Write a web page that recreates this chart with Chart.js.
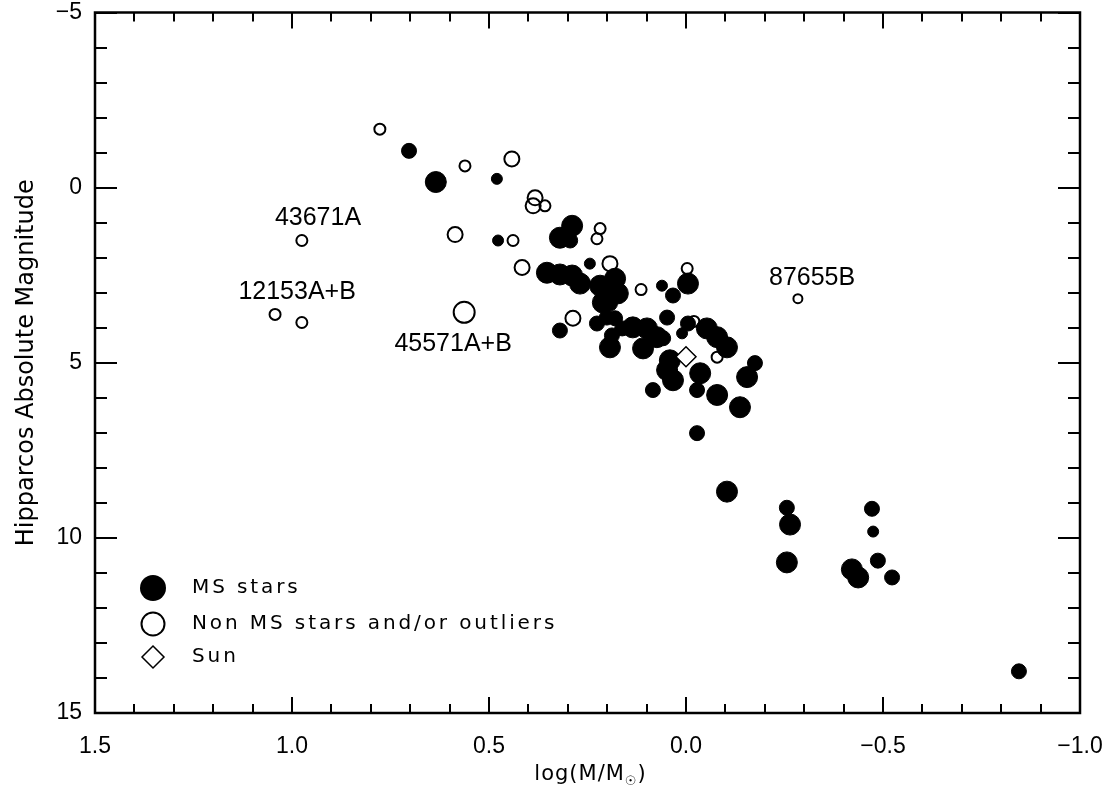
<!DOCTYPE html>
<html>
<head>
<meta charset="utf-8">
<script src="https://cdn.jsdelivr.net/npm/chart.js@4.4.1/dist/chart.umd.min.js"></script>
<style>
    html, body { margin: 0; padding: 0; background: #fff; }
    #wrap { width: 1114px; height: 795px; position: relative; }
</style>
</head>
<body>
<div id="wrap"><canvas id="hrChart"></canvas></div>
<script>
// MS stars: log(M/Msun), Hipparcos absolute magnitude, marker size class (0 tiny .. 3 large)
const msLogMass = [0.703, 0.635, 0.480, 0.477, 0.289, 0.320, 0.294, 0.353, 0.320, 0.289,
    0.269, 0.244, 0.218, 0.180, 0.201, 0.173, 0.211, 0.193, 0.061, 0.033,
    -0.005, 0.320, 0.226, 0.201, 0.180, 0.162, 0.188, 0.193, 0.135, 0.099,
    0.074, 0.109, 0.058, 0.048, -0.005, 0.010, -0.053, -0.079, -0.104, 0.041,
    0.048, 0.033, 0.084, -0.036, -0.028, -0.079, -0.137, -0.155, -0.175, -0.028,
    -0.104, -0.256, -0.264, -0.256, -0.472, -0.475, -0.487, -0.421, -0.437, -0.523,
    -0.845];
const msAbsMag = [-1.05, -0.16, -0.25, 1.51, 1.09, 1.43, 1.51, 2.43, 2.48, 2.51,
    2.74, 2.17, 2.80, 2.60, 2.99, 3.02, 3.28, 3.31, 2.80, 3.08,
    2.74, 4.08, 3.88, 3.71, 3.73, 4.02, 4.22, 4.56, 3.99, 4.02,
    4.27, 4.59, 4.30, 3.71, 3.88, 4.16, 4.02, 4.27, 4.56, 4.93,
    5.21, 5.50, 5.78, 5.30, 5.78, 5.92, 6.27, 5.41, 5.01, 7.01,
    8.68, 9.14, 9.62, 10.70, 9.17, 9.82, 10.65, 10.90, 11.13, 11.13,
    13.81];
const msSizeClass = [2, 3, 1, 1, 3, 3, 2, 3, 3, 3,
    3, 1, 3, 3, 3, 3, 3, 2, 1, 2,
    3, 2, 2, 2, 2, 2, 2, 3, 3, 3,
    3, 3, 2, 2, 2, 1, 3, 3, 3, 3,
    3, 3, 2, 3, 2, 3, 3, 3, 2, 2,
    3, 2, 3, 3, 2, 1, 2, 3, 3, 2,
    2];

// non MS stars and/or outliers
const otherLogMass = [0.777, 0.561, 0.442, 0.383, 0.388, 0.358, 0.586, 0.439, 0.218, 0.226,
    0.416, 0.193, -0.003, 0.114, 0.287, -0.020, -0.079, -0.284, 0.975, 1.043,
    0.975, 0.563];
const otherAbsMag = [-1.67, -0.62, -0.82, 0.29, 0.52, 0.52, 1.34, 1.51, 1.17, 1.46,
    2.28, 2.17, 2.31, 2.91, 3.73, 3.82, 4.84, 3.17, 1.51, 3.62,
    3.85, 3.56];
const otherSizeClass = [1, 1, 2, 2, 2, 1, 2, 1, 1, 1,
    2, 2, 1, 1, 2, 1, 1, 0, 1, 1,
    1, 3];

const sunLogMass = [0.0];
const sunAbsMag = [4.83];

// HIP identifiers written next to some outliers (anchor in data units)
const starIds = ['43671A', '12153A+B', '45571A+B', '87655B'];
const starIdLogMass = [0.934, 0.987, 0.591, -0.320];
const starIdAbsMag = [0.86, 2.97, 4.47, 2.57];

const xTicks = [1.5, 1.0, 0.5, 0.0, -0.5, -1.0];
const yTicks = [-5, 0, 5, 10, 15];

const legendItems = ['MS stars', 'Non MS stars and/or outliers', 'Sun'];

const radiusBySize = [4.5, 5.5, 7.5, 10.5];

function toPoints(xs, ys) {
    return xs.map((v, i) => ({x: v, y: ys[i]}));
}

function minus(s) {
    return String(s).replace('-', '\u2212');
}

const frameAndTicks = {
    id: 'frameAndTicks',
    afterDatasetsDraw(chart) {
        const {ctx, chartArea: a, scales: {x, y}} = chart;
        ctx.save();
        ctx.strokeStyle = '#000';
        ctx.lineWidth = 2;
        ctx.beginPath();
        for (let i = 0; i <= 25; i++) {
            const px = Math.round(x.getPixelForValue(-1 + i * 0.1));
            const len = i % 5 === 0 ? 16 : 9;
            ctx.moveTo(px, a.bottom);
            ctx.lineTo(px, a.bottom - len);
            ctx.moveTo(px, a.top);
            ctx.lineTo(px, a.top + len);
        }
        for (let m = -5; m <= 15; m++) {
            const py = Math.round(y.getPixelForValue(m));
            const len = m % 5 === 0 ? 22 : 12;
            ctx.moveTo(a.left, py);
            ctx.lineTo(a.left + len, py);
            ctx.moveTo(a.right, py);
            ctx.lineTo(a.right - len, py);
        }
        ctx.stroke();
        ctx.lineWidth = 2.5;
        ctx.strokeRect(a.left, a.top, a.right - a.left, a.bottom - a.top);
        ctx.restore();
    }
};

const textLayer = {
    id: 'textLayer',
    afterDraw(chart) {
        const {ctx, chartArea: a, scales: {x, y}} = chart;
        ctx.save();
        ctx.fillStyle = '#000';
        ctx.strokeStyle = '#000';

        // star identifiers
        ctx.font = '25px "Liberation Sans"';
        ctx.textAlign = 'center';
        ctx.textBaseline = 'middle';
        starIds.forEach((id, i) => {
            ctx.fillText(id, x.getPixelForValue(starIdLogMass[i]), y.getPixelForValue(starIdAbsMag[i]));
        });

        // legend
        const mx = a.left + 58;
        const rows = [a.bottom - 125, a.bottom - 89, a.bottom - 56];
        ctx.lineWidth = 2;
        ctx.beginPath();
        ctx.arc(mx, rows[0], 13, 0, Math.PI * 2);
        ctx.fill();
        ctx.beginPath();
        ctx.arc(mx, rows[1], 11.5, 0, Math.PI * 2);
        ctx.stroke();
        ctx.lineWidth = 1.5;
        ctx.beginPath();
        ctx.moveTo(mx, rows[2] - 11);
        ctx.lineTo(mx + 11, rows[2]);
        ctx.lineTo(mx, rows[2] + 11);
        ctx.lineTo(mx - 11, rows[2]);
        ctx.closePath();
        ctx.stroke();

        ctx.font = '20px "DejaVu Sans"';
        ctx.letterSpacing = '2.9px';
        ctx.textAlign = 'left';
        legendItems.forEach((t, i) => ctx.fillText(t, a.left + 97, rows[i]));

        // x axis title with subscript sun symbol
        ctx.letterSpacing = '1px';
        ctx.font = '21px "DejaVu Sans"';
        const main = 'log(M/M';
        const w1 = ctx.measureText(main).width;
        const w3 = ctx.measureText(')').width;
        ctx.font = '13px "DejaVu Sans"';
        const w2 = ctx.measureText('\u2609').width;
        let tx = (a.left + a.right) / 2 + 3 - (w1 + w2 + w3) / 2;
        const ty = 775;
        ctx.font = '21px "DejaVu Sans"';
        ctx.fillText(main, tx, ty);
        ctx.font = '13px "DejaVu Sans"';
        ctx.fillText('\u2609', tx + w1, ty + 7);
        ctx.font = '21px "DejaVu Sans"';
        ctx.fillText(')', tx + w1 + w2, ty);
        ctx.restore();
    }
};

const ctx = document.getElementById('hrChart').getContext('2d');

const chartHR = new Chart(ctx, {
    type: 'scatter',
    data: {
        datasets: [
            {
                label: legendItems[2],
                data: toPoints(sunLogMass, sunAbsMag),
                pointStyle: 'rectRot',
                pointRadius: 10,
                backgroundColor: '#fff',
                borderColor: '#000',
                borderWidth: 1.5
            },
            {
                label: legendItems[0],
                data: toPoints(msLogMass, msAbsMag),
                pointStyle: 'circle',
                pointRadius: msSizeClass.map(s => radiusBySize[s]),
                backgroundColor: '#000',
                borderColor: '#000',
                borderWidth: 1
            },
            {
                label: legendItems[1],
                data: toPoints(otherLogMass, otherAbsMag),
                pointStyle: 'circle',
                pointRadius: otherSizeClass.map(s => radiusBySize[s]),
                backgroundColor: 'rgba(0,0,0,0)',
                borderColor: '#000',
                borderWidth: 2
            }
        ]
    },
    options: {
        responsive: true,
        maintainAspectRatio: false,
        animation: false,
        layout: {
            padding: {top: 11, right: 34, left: 0, bottom: 0}
        },
        plugins: {
            legend: {display: false},
            tooltip: {enabled: false}
        },
        scales: {
            x: {
                type: 'linear',
                min: -1.0,
                max: 1.5,
                reverse: true,
                grid: {display: false, drawTicks: false},
                border: {display: false},
                afterFit: scale => {
                    scale.height = 82;
                    scale.paddingLeft = 0;
                    scale.paddingRight = 0;
                },
                afterBuildTicks: scale => { scale.ticks = xTicks.map(v => ({value: v})); },
                ticks: {
                    color: '#000',
                    padding: 20,
                    maxRotation: 0,
                    font: {family: 'Liberation Sans', size: 23},
                    callback: v => minus(Number(v).toFixed(1))
                }
            },
            y: {
                type: 'linear',
                min: -5,
                max: 15,
                reverse: true,
                grid: {display: false, drawTicks: false},
                border: {display: false},
                afterFit: scale => {
                    scale.width = 95;
                    scale.paddingTop = 0;
                    scale.paddingBottom = 0;
                },
                afterBuildTicks: scale => { scale.ticks = yTicks.map(v => ({value: v})); },
                ticks: {
                    color: '#000',
                    padding: 13,
                    font: {family: 'Liberation Sans', size: 23},
                    callback: v => minus(v)
                },
                title: {
                    display: true,
                    text: 'Hipparcos Absolute Magnitude',
                    color: '#000',
                    padding: {top: 12, bottom: 0},
                    font: {family: 'DejaVu Sans', size: 24}
                }
            }
        }
    },
    plugins: [frameAndTicks, textLayer]
});
</script>
</body>
</html>
